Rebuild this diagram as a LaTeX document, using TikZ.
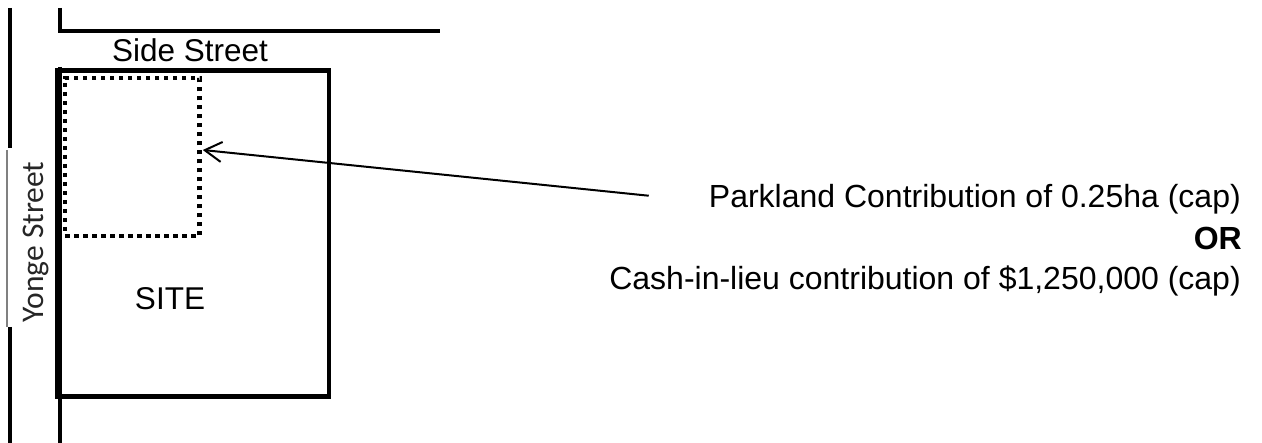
\documentclass[tikz,border=0pt]{standalone}
\usepackage{fontspec}
\setmainfont{Liberation Sans}
\newfontfamily\labelfont{Carlito}
\usetikzlibrary{arrows.meta}
\begin{document}
\begin{tikzpicture}[x=1pt,y=-1pt,
  street/.style={line width=4pt},
  sitebox/.style={draw,line width=4.5pt,minimum width=272pt,minimum height=326pt,inner sep=0pt},
  parkbox/.style={draw,line width=4.5pt,dash pattern=on 4.5pt off 4.5pt,minimum width=134.5pt,minimum height=158pt,inner sep=0pt},
  txt/.style={font=\fontsize{31.5}{31.5}\selectfont,inner sep=0pt},
  note/.style={font=\fontsize{32}{32}\selectfont,inner sep=0pt,anchor=base east},
  pointer/.style={line width=2pt,-{Straight Barb[length=17pt,width=20pt,line width=2pt]}}]
\useasboundingbox (0,0) rectangle (1262,443);
% outer edge of Yonge Street, broken by its label
\draw[street] (10,8) -- (10,148);
\draw[street] (10,327) -- (10,443);
\draw[gray,line width=1.3pt] (7,150) -- (7,327);
\node[rotate=90,anchor=base,inner sep=0pt,font=\labelfont\fontsize{31.5}{31.5}\selectfont,text=black!85] (yonge) at (43,242) {Yonge Street};
% inner street edges
\draw[street] (60,8) -- (60,31) -- (440,31);
\draw[street] (60,67) -- (60,443);
\node[txt,anchor=base] (side) at (190,62) {Side Street};
% site and parkland area
\node[sitebox] (site) at (193,233.5) {};
\node[parkbox] (park) at (132.25,157) {};
\node[txt,anchor=base] (sitelbl) at (170,310) {SITE};
% contribution text
\node[note] (l1) at (1241,208) {Parkland Contribution of 0.25ha (cap)};
\node[note,font=\fontsize{32}{32}\selectfont\bfseries] (l2) at (1242,250) {OR};
\node[note] (l3) at (1241,290) {Cash-in-lieu contribution of \$1,250,000 (cap)};
\coordinate (tail) at ([xshift=-60pt,yshift=4pt]l1.west);
\draw[pointer] (tail) -- ([yshift=7pt,xshift=1pt]park.east);
\end{tikzpicture}
\end{document}
